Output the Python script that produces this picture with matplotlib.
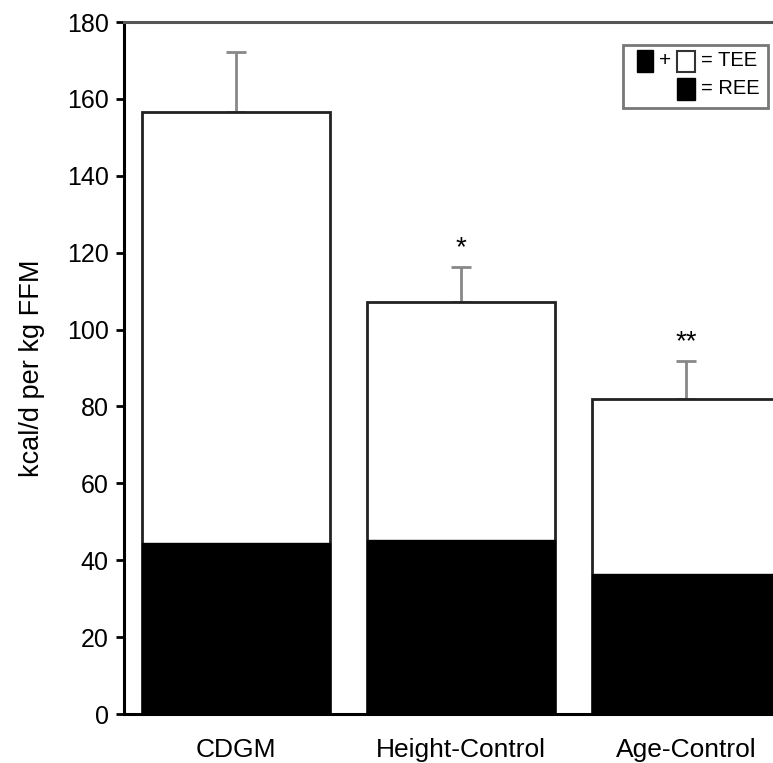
import numpy as np
import matplotlib
matplotlib.use('Agg')
import matplotlib.pyplot as plt
from matplotlib.patches import Rectangle

plt.rcParams['font.family'] = ['Liberation Sans', 'DejaVu Sans']

groups = ['CDGM', 'Height-Control', 'Age-Control']
tee = [156.6, 107.2, 82.0]
tee_err = [15.6, 9.1, 9.8]
ree = [44.4, 45.3, 36.4]
ree_err = [1.5, 2.4, 2.1]
stars = ['', '*', '**']

W, H = 773, 763
fig = plt.figure(figsize=(W / 100, H / 100), dpi=100)
ax = fig.add_axes([124 / W, 49 / H, 1 - 124 / W, 692 / H])

x = np.arange(len(groups))
w = 0.835

ax.bar(x, tee, width=w, color='white', edgecolor='#222222', linewidth=2, zorder=2)
ax.errorbar(x, tee, yerr=[np.zeros(3), tee_err], fmt='none', ecolor='#888888',
            elinewidth=2, capsize=7, capthick=2, zorder=1)
ax.bar(x, ree, width=w, color='black', edgecolor='black', linewidth=1, zorder=3)
ax.errorbar(x, ree, yerr=[np.zeros(3), ree_err], fmt='none', ecolor='#777777',
            elinewidth=2, capsize=4, capthick=2, zorder=1)

for xi, t, e, s in zip(x, tee, tee_err, stars):
    if s:
        ax.text(xi, t + e + 1.5, s, ha='center', va='bottom', fontsize=20)

ax.set_xlim(-0.498, 2.387)
ax.set_ylim(0, 180)
ax.set_yticks(np.arange(0, 181, 20))
ax.tick_params(axis='y', labelsize=18, length=6, width=2, direction='out', pad=5)
ax.set_xticks(x)
ax.set_xticklabels(groups, fontsize=19)
ax.tick_params(axis='x', length=0, pad=17)
ax.set_ylabel('kcal/d per kg FFM', fontsize=19.5, labelpad=16)

ax.spines['right'].set_visible(False)
ax.spines['left'].set_linewidth(2.2)
ax.spines['bottom'].set_linewidth(2.2)
ax.spines['top'].set_color('#555555')
ax.spines['top'].set_linewidth(2.2)


# legend box drawn by hand, in pixel coordinates from top-left
def box(x0, y0, bw, bh, **kw):
    fig.patches.append(Rectangle((x0 / W, 1 - (y0 + bh) / H), bw / W, bh / H,
                                 transform=fig.transFigure, **kw))


box(623, 45, 145, 63, facecolor='white', edgecolor='#777777', linewidth=2, zorder=5)
box(637, 50, 16, 22, facecolor='black', edgecolor='black', zorder=6)
box(677, 51, 18, 21, facecolor='white', edgecolor='#333333', linewidth=1.5, zorder=6)
box(677, 78, 18, 22, facecolor='black', edgecolor='black', zorder=6)
fig.text(665 / W, 1 - 61 / H, '+', ha='center', va='center', fontsize=15, zorder=7)
fig.text(701 / W, 1 - 61 / H, '= TEE', ha='left', va='center', fontsize=14.5, zorder=7)
fig.text(701 / W, 1 - 89 / H, '= REE', ha='left', va='center', fontsize=14.5, zorder=7)

fig.savefig('out.png', dpi=100)
